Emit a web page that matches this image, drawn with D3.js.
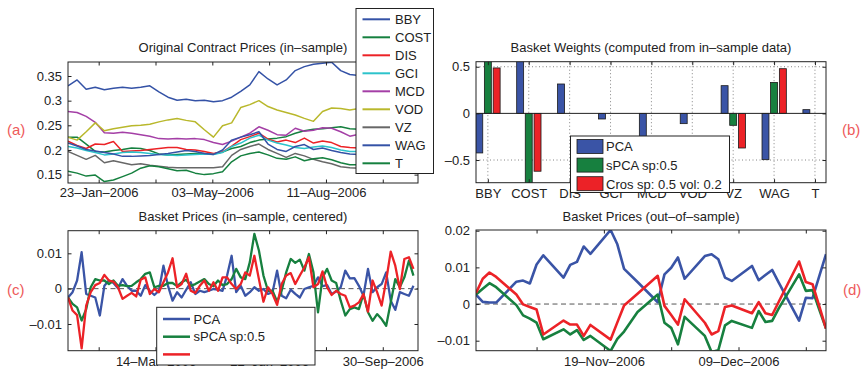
<!DOCTYPE html>
<html>
<head>
<meta charset="utf-8">
<script src="https://d3js.org/d3.v7.min.js"></script>
<style>
    body { margin: 0; background: #fff; }
    text { fill: #222; }
</style>
</head>
<body>
<div id="chart"></div>
<script>
    var FONT = '"Liberation Sans", Arial, Helvetica, sans-serif';

    // ---- panel (a): contract prices, sampled every 8 days from 27-Dec-2005
    var stocks = ["BBY","COST","DIS","GCI","MCD","VOD","VZ","WAG","T"];
    var stockColors = ["#3452a6","#15803f","#ec2226","#2cc3cb","#a43fa6","#b9b82c","#676767","#3452a6","#15803f"];
    var dayGridA = [0,8,16,24,32,40,48,56,64,72,80,88,96,104,112,120,128,136,144,152,160,168,176,184,192,200,208,216,224,232,240,248,256,264,272,280,288,296,304];
    var bby  = [0.330,0.342,0.323,0.327,0.322,0.325,0.327,0.325,0.327,0.330,0.318,0.307,0.301,0.303,0.300,0.301,0.298,0.300,0.307,0.319,0.332,0.359,0.344,0.332,0.342,0.361,0.369,0.374,0.376,0.378,0.361,0.353,0.351,0.352,0.355,0.358,0.360,0.360,0.358];
    var cost = [0.226,0.226,0.212,0.197,0.196,0.199,0.201,0.204,0.203,0.199,0.192,0.190,0.191,0.192,0.193,0.193,0.192,0.196,0.203,0.207,0.215,0.220,0.222,0.224,0.227,0.234,0.239,0.242,0.243,0.245,0.247,0.243,0.242,0.240,0.243,0.245,0.242,0.244,0.246];
    var dis  = [0.218,0.209,0.203,0.212,0.211,0.217,0.197,0.198,0.199,0.201,0.203,0.205,0.205,0.201,0.200,0.197,0.193,0.196,0.208,0.221,0.227,0.234,0.222,0.216,0.220,0.215,0.224,0.214,0.218,0.215,0.207,0.205,0.204,0.205,0.203,0.206,0.204,0.202,0.203];
    var gci  = [0.207,0.204,0.199,0.195,0.190,0.192,0.195,0.196,0.195,0.193,0.191,0.190,0.189,0.190,0.191,0.192,0.191,0.195,0.207,0.214,0.224,0.230,0.220,0.214,0.210,0.205,0.203,0.206,0.208,0.205,0.200,0.197,0.197,0.196,0.195,0.197,0.194,0.195,0.196];
    var mcd  = [0.278,0.276,0.268,0.256,0.235,0.234,0.236,0.234,0.231,0.228,0.223,0.222,0.223,0.222,0.223,0.221,0.215,0.211,0.218,0.226,0.234,0.247,0.240,0.231,0.230,0.244,0.238,0.240,0.245,0.244,0.237,0.228,0.232,0.232,0.234,0.230,0.228,0.230,0.232];
    var vod  = [0.226,0.220,0.237,0.255,0.239,0.243,0.246,0.249,0.250,0.252,0.257,0.261,0.264,0.260,0.257,0.241,0.226,0.249,0.255,0.286,0.292,0.300,0.288,0.281,0.276,0.271,0.264,0.258,0.278,0.285,0.284,0.281,0.284,0.286,0.283,0.285,0.288,0.286,0.287];
    var vz   = [0.197,0.189,0.181,0.189,0.174,0.178,0.174,0.170,0.172,0.169,0.167,0.165,0.164,0.164,0.164,0.164,0.164,0.166,0.189,0.201,0.207,0.212,0.201,0.193,0.185,0.193,0.188,0.181,0.176,0.172,0.166,0.164,0.163,0.162,0.163,0.161,0.162,0.160,0.161];
    var wag  = [0.214,0.208,0.201,0.198,0.195,0.192,0.187,0.187,0.188,0.189,0.191,0.193,0.196,0.199,0.197,0.193,0.191,0.200,0.220,0.226,0.231,0.237,0.212,0.201,0.197,0.207,0.211,0.201,0.204,0.199,0.195,0.192,0.191,0.190,0.191,0.189,0.190,0.188,0.190];
    var att  = [0.157,0.153,0.147,0.149,0.136,0.139,0.146,0.153,0.163,0.168,0.166,0.162,0.158,0.159,0.153,0.150,0.152,0.156,0.176,0.188,0.193,0.196,0.190,0.183,0.181,0.186,0.178,0.182,0.184,0.180,0.174,0.170,0.170,0.172,0.170,0.168,0.171,0.169,0.170];
    var priceSeries = [bby, cost, dis, gci, mcd, vod, vz, wag, att];

    // ---- panel (b): basket weights
    var weightNames = ["PCA", "sPCA sp:0.5", "Cros sp: 0.5 vol: 0.2"];
    var weightColors = ["#3a54a6", "#17803f", "#ec2227"];
    var wPCA  = [-0.424, 0.58, 0.315, -0.06, -0.30, -0.11, 0.297, -0.496, 0.04];
    var wSPCA = [0.57, -0.80, 0, 0, 0, 0, -0.128, 0.332, 0];
    var wCros = [0.487, -0.62, 0, 0, 0, 0, -0.371, 0.479, 0];

    // ---- panel (c): in-sample basket prices (x 1e-3), every 4 days from 27-Dec-2005
    var dayGridC = [0,4,8,12,16,20,24,28,32,36,40,44,48,52,56,60,64,68,72,76,80,84,88,92,96,100,104,108,112,116,120,124,128,132,136,140,144,148,152,156,160,164,168,172,176,180,184,188,192,196,200,204,208,212,216,220,224,228,232,236,240,244,248,252,256,260,264,268,272,276,280,284,288,292,296,300,304];
    var inPCA  = [-2.5,-1.0,2.3,10.3,-1.5,-2.0,-2.5,-7.6,0.8,2.3,1.6,0.1,2.7,0.8,-0.6,-0.6,-2.0,1.0,-0.6,-1.8,-0.6,6.5,0.8,-3.4,-1.0,-2.5,-0.3,1.8,-1.5,-0.6,-1.0,-0.6,-0.1,-0.3,-0.6,3.7,9.3,-1.0,0.8,-2.0,-1.0,0.4,-0.6,-0.1,-1.5,-1.0,5.1,-2.0,-2.7,-0.3,-1.5,-2.5,-0.1,0.4,0.8,3.2,0.7,1.0,-1.5,-0.8,0.4,5.1,2.9,3.0,0.8,-2.0,5.6,-1.0,0.4,1.3,4.6,-3.4,-6.0,-1.0,-1.5,-2.0,0.8];
    var inSPCA = [-2.5,-4.3,-5.3,-9.0,-5.8,0.4,2.7,2.3,2.3,1.3,2.3,0.8,1.0,0.7,0.8,1.8,2.7,4.2,4.6,0.4,0.8,0.8,1.6,1.6,0.7,1.8,2.5,0.8,1.3,2.0,2.7,1.3,0.7,2.3,1.0,1.3,2.7,5.6,3.2,2.7,7.5,15.5,10.8,3.7,-0.6,-0.6,-3.7,-0.6,4.6,8.4,7.3,8.2,5.1,9.8,4.6,-6.7,3.2,5.6,2.3,1.6,-3.4,-7.6,-5.8,-5.3,-5.8,-1.5,-6.7,-9.1,-7.2,-8.6,-10.5,-3.9,2.7,0.4,3.2,7.9,3.7];
    var inCros = [-2.5,-6.2,-7.5,-16.9,-4.8,-1.0,1.0,1.6,3.9,2.3,2.0,0.4,-2.9,-2.0,-1.2,-2.2,2.5,3.2,-1.5,-0.1,-1.0,1.8,4.6,8.6,0.4,1.3,4.2,-0.6,-1.2,0.8,2.3,-0.6,1.8,-0.6,3.2,3.2,1.3,-0.1,1.3,4.6,3.7,9.3,2.7,-3.7,0.4,-1.5,-4.6,1.3,3.7,4.4,1.3,3.7,6.0,8.9,0.4,1.3,4.9,0.4,-1.8,-0.6,-1.5,-2.0,-5.3,-4.8,-3.9,-1.5,-6.5,2.3,-1.0,-4.8,2.3,10.5,6.5,-0.1,8.4,8.9,5.6];

    // ---- panel (d): out-of-sample basket prices (x 1e-3), trading days from 31-Oct-2006
    var dayGridD = [0,1,2,3,6,7,8,9,10,13,14,15,16,17,20,21,22,24,27,28,29,30,31,34,35,36,37,38,41,42,43,44,45,48,49,50,51,52];
    var outPCA  = [2.6,0.6,0.4,0.4,6.1,6.4,5.6,10.8,13.3,7.2,10.7,11.5,15.7,13.7,20.2,16.3,9.6,6.0,0.5,8.1,9.9,12.7,6.9,13.1,13.6,12.2,7.2,6.3,10.4,6.5,7.9,9.3,5.8,-4.5,1.7,1.6,7.6,13.6];
    var outSPCA = [2.6,4.2,5.7,4.6,-0.3,-3.1,-4.0,-5.1,-9.6,-6.9,-8.3,-7.1,-9.8,-8.7,-12.8,-9.5,-7.5,-2.2,2.6,-5.1,-6.5,-11.0,-3.5,-8.7,-13.1,-12.6,-5.8,-4.6,-6.5,-1.9,-4.9,-4.6,-1.1,8.1,3.6,3.8,-1.5,-6.7];
    var outCros = [3.0,6.9,8.6,7.4,2.6,-0.1,-0.8,-1.5,-8.3,-4.5,-5.6,-5.6,-8.7,-5.7,-9.7,-5.0,-0.4,2.8,7.7,-0.5,-3.0,-5.6,1.3,-5.1,-8.3,-7.4,-0.8,-0.4,-2.5,0.5,-2.5,-3.0,0.7,11.6,6.0,5.4,-0.6,-6.7];
    var basketColors = ["#3a54a6", "#17803f", "#ec2227"];

    var startIn = new Date(2005, 11, 27), endIn = new Date(2006, 9, 31);
    var startOut = new Date(2006, 9, 31), endOut = new Date(2006, 11, 22);
    var ticksIn = [new Date(2006,0,23), new Date(2006,2,14), new Date(2006,4,3), new Date(2006,5,22), new Date(2006,7,11), new Date(2006,8,30)];
    var ticksOut = [new Date(2006,10,9), new Date(2006,10,19), new Date(2006,10,29), new Date(2006,11,9), new Date(2006,11,19)];

    function addDays(base, n) { var d = new Date(base); d.setDate(d.getDate() + n); return d; }
    var dateFmt = d3.timeFormat("%d\u2013%b\u2013%Y");
    function numFmt(v) { return v === 0 ? "0" : (v < 0 ? "\u2013" : "") + String(+Math.abs(v).toFixed(4)); }
    function milliFmt(v) { return numFmt(v / 1000); }

    var svg = d3.select("#chart").append("svg").attr("width", 865).attr("height", 372)
        .style("font-family", FONT);

    // inward ticks on all four sides plus a box, MATLAB style
    function drawAxes(g, x, y, o) {
        var xr = x.range(), yr = y.range();
        function style(s) {
            s.attr("font-size", 13).attr("font-family", FONT).attr("color", "#222");
            s.select(".domain").remove();
            s.selectAll("text").style("fill", "#222");
        }
        g.append("g").attr("transform", "translate(0," + yr[0] + ")")
            .call(d3.axisBottom(x).tickValues(o.xTicks).tickSizeInner(-3.5).tickSizeOuter(0)
                .tickPadding(o.xPad).tickFormat(o.xFmt)).call(style);
        g.append("g").attr("transform", "translate(0," + yr[1] + ")")
            .call(d3.axisTop(x).tickValues(o.xTicks).tickSizeInner(-3.5).tickSizeOuter(0).tickFormat("")).call(style);
        g.append("g").attr("transform", "translate(" + xr[0] + ",0)")
            .call(d3.axisLeft(y).tickValues(o.yTicks).tickSizeInner(-3.5).tickSizeOuter(0)
                .tickPadding(6).tickFormat(o.yFmt)).call(style);
        g.append("g").attr("transform", "translate(" + xr[1] + ",0)")
            .call(d3.axisRight(y).tickValues(o.yTicks).tickSizeInner(-3.5).tickSizeOuter(0).tickFormat("")).call(style);
        g.append("rect").attr("x", xr[0]).attr("y", yr[1])
            .attr("width", xr[1] - xr[0]).attr("height", yr[0] - yr[1])
            .attr("fill", "none").attr("stroke", "#222").attr("stroke-width", 1);
    }

    function addClip(id, x, y) {
        svg.append("clipPath").attr("id", id).append("rect")
            .attr("x", x.range()[0]).attr("y", y.range()[1])
            .attr("width", x.range()[1] - x.range()[0]).attr("height", y.range()[0] - y.range()[1]);
    }

    function title(txt, x, yPos) {
        svg.append("text").attr("x", (x.range()[0] + x.range()[1]) / 2).attr("y", yPos)
            .attr("text-anchor", "middle").attr("font-size", 13).text(txt);
    }

    function tag(txt, xPos, yPos) {
        svg.append("text").attr("x", xPos).attr("y", yPos).attr("font-size", 15)
            .style("fill", "#ee5a5a").text(txt);
    }

    // ================= (a)
    var xA = d3.scaleTime().domain([startIn, endIn]).range([68, 418]);
    var yA = d3.scaleLinear().domain([0.133, 0.3784]).range([183, 62]);
    addClip("clipA", xA, yA);
    var gA = svg.append("g");
    var lineA = d3.line().x(function(v, i) { return xA(addDays(startIn, dayGridA[i])); }).y(function(v) { return yA(v); });
    gA.append("g").attr("clip-path", "url(#clipA)").selectAll("path").data(priceSeries).enter().append("path")
        .attr("d", lineA).attr("fill", "none")
        .attr("stroke", function(d, i) { return stockColors[i]; })
        .attr("stroke-width", 1.5).attr("stroke-linejoin", "round");
    var labelA = ticksIn.filter(function(d, i) { return i % 2 === 0; }).map(Number);
    drawAxes(gA, xA, yA, {
        xTicks: ticksIn, xPad: 5,
        xFmt: function(d) { return labelA.indexOf(+d) >= 0 ? dateFmt(d) : ""; },
        yTicks: [0.15, 0.2, 0.25, 0.3, 0.35], yFmt: numFmt
    });
    title("Original Contract Prices (in\u2013sample)", xA, 52);

    // legend (a)
    var legA = svg.append("g");
    legA.append("rect").attr("x", 356).attr("y", 8.5).attr("width", 77.5).attr("height", 165)
        .attr("fill", "#fff").attr("stroke", "#222");
    stocks.forEach(function(s, i) {
        var yy = 19.3 + 18 * i;
        legA.append("line").attr("x1", 362.5).attr("x2", 390).attr("y1", yy).attr("y2", yy)
            .attr("stroke", stockColors[i]).attr("stroke-width", 2);
        legA.append("text").attr("x", 395).attr("y", yy + 4.6).attr("font-size", 13).text(s);
    });

    // ================= (b)
    var xB = d3.scaleLinear().domain([0.71, 9.27]).range([476, 826]);
    var yB = d3.scaleLinear().domain([-0.743, 0.554]).range([182.7, 61.7]);
    addClip("clipB", xB, yB);
    var gB = svg.append("g");
    var cats = d3.range(1, stocks.length + 1);
    gB.selectAll("line.vgrid").data(cats).enter().append("line")
        .attr("x1", function(d) { return xB(d); }).attr("x2", function(d) { return xB(d); })
        .attr("y1", yB.range()[0]).attr("y2", yB.range()[1])
        .attr("stroke", "#666").attr("stroke-width", 0.8).attr("stroke-dasharray", "1,2.5");
    gB.selectAll("line.hgrid").data([-0.5, 0.5]).enter().append("line")
        .attr("x1", xB.range()[0]).attr("x2", xB.range()[1])
        .attr("y1", function(d) { return yB(d); }).attr("y2", function(d) { return yB(d); })
        .attr("stroke", "#666").attr("stroke-width", 0.8).attr("stroke-dasharray", "1,2.5");
    var groups = [wPCA, wSPCA, wCros];
    var offsets = [-0.21, 0, 0.215];
    var bw = 0.17;
    var barG = gB.append("g").attr("clip-path", "url(#clipB)");
    groups.forEach(function(vals, k) {
        barG.selectAll("rect.s" + k).data(vals).enter().append("rect")
            .attr("x", function(v, i) { return xB(i + 1 + offsets[k] - bw / 2); })
            .attr("width", xB(1 + bw) - xB(1))
            .attr("y", function(v) { return Math.min(yB(v), yB(0)); })
            .attr("height", function(v) { return Math.abs(yB(v) - yB(0)); })
            .attr("fill", weightColors[k]).attr("stroke", "#1a1a1a").attr("stroke-width", 0.8);
    });
    gB.append("line").attr("x1", xB.range()[0]).attr("x2", xB.range()[1])
        .attr("y1", yB(0)).attr("y2", yB(0)).attr("stroke", "#222").attr("stroke-width", 1);
    drawAxes(gB, xB, yB, {
        xTicks: cats, xPad: 6, xFmt: function(d) { return stocks[d - 1]; },
        yTicks: [-0.5, 0, 0.5], yFmt: numFmt
    });
    title("Basket Weights (computed from in\u2013sample data)", xB, 52);

    // legend (b)
    var legB = svg.append("g");
    legB.append("rect").attr("x", 570.5).attr("y", 136).attr("width", 159).attr("height", 56.5)
        .attr("fill", "#fff").attr("stroke", "#222");
    weightNames.forEach(function(s, i) {
        var yy = 139.5 + 18.6 * i;
        legB.append("rect").attr("x", 577).attr("y", yy).attr("width", 26).attr("height", 14)
            .attr("fill", weightColors[i]).attr("stroke", "#1a1a1a").attr("stroke-width", 0.8);
        legB.append("text").attr("x", 606).attr("y", yy + 11.8).attr("font-size", 13).text(s);
    });

    // ================= (c)
    var xC = d3.scaleTime().domain([startIn, endIn]).range([68, 418]);
    var yC = d3.scaleLinear().domain([-17.56, 16.4]).range([350.7, 230.7]);
    addClip("clipC", xC, yC);
    var gC = svg.append("g");
    gC.append("line").attr("x1", xC.range()[0]).attr("x2", xC.range()[1])
        .attr("y1", yC(0)).attr("y2", yC(0))
        .attr("stroke", "#555").attr("stroke-width", 1).attr("stroke-dasharray", "5,3.5");
    var lineC = d3.line().x(function(v, i) { return xC(addDays(startIn, dayGridC[i])); }).y(function(v) { return yC(v); });
    gC.append("g").attr("clip-path", "url(#clipC)").selectAll("path").data([inPCA, inSPCA, inCros]).enter().append("path")
        .attr("d", lineC).attr("fill", "none")
        .attr("stroke", function(d, i) { return basketColors[i]; })
        .attr("stroke-width", 2.3).attr("stroke-linejoin", "round");
    var labelC = ticksIn.filter(function(d, i) { return i % 2 === 1; }).map(Number);
    drawAxes(gC, xC, yC, {
        xTicks: ticksIn, xPad: 6,
        xFmt: function(d) { return labelC.indexOf(+d) >= 0 ? dateFmt(d) : ""; },
        yTicks: [-10, 0, 10], yFmt: milliFmt
    });
    title("Basket Prices (in\u2013sample, centered)", xC, 221);

    // legend (c)
    var legC = svg.append("g");
    legC.append("rect").attr("x", 156.7).attr("y", 307.3).attr("width", 158.3).attr("height", 57.7)
        .attr("fill", "#fff").attr("stroke", "#222");
    ["PCA", "sPCA sp:0.5", ""].forEach(function(s, i) {
        var yy = 319 + 17.7 * i;
        legC.append("line").attr("x1", 163).attr("x2", 190).attr("y1", yy).attr("y2", yy)
            .attr("stroke", basketColors[i]).attr("stroke-width", 2.5);
        legC.append("text").attr("x", 193.5).attr("y", yy + 4.6).attr("font-size", 13).text(s);
    });

    // ================= (d)
    var xD = d3.scaleTime().domain([startOut, endOut]).range([476, 826]);
    var yD = d3.scaleLinear().domain([-12.73, 20.2]).range([350.7, 230]);
    addClip("clipD", xD, yD);
    var gD = svg.append("g");
    gD.append("line").attr("x1", xD.range()[0]).attr("x2", xD.range()[1])
        .attr("y1", yD(0)).attr("y2", yD(0))
        .attr("stroke", "#555").attr("stroke-width", 1).attr("stroke-dasharray", "5,3.5");
    var lineD = d3.line().x(function(v, i) { return xD(addDays(startOut, dayGridD[i])); }).y(function(v) { return yD(v); });
    gD.append("g").attr("clip-path", "url(#clipD)").selectAll("path").data([outPCA, outSPCA, outCros]).enter().append("path")
        .attr("d", lineD).attr("fill", "none")
        .attr("stroke", function(d, i) { return basketColors[i]; })
        .attr("stroke-width", 2.6).attr("stroke-linejoin", "round");
    var labelD = [ticksOut[1], ticksOut[3]].map(Number);
    drawAxes(gD, xD, yD, {
        xTicks: ticksOut, xPad: 6,
        xFmt: function(d) { return labelD.indexOf(+d) >= 0 ? dateFmt(d) : ""; },
        yTicks: [-10, 0, 10, 20], yFmt: milliFmt
    });
    title("Basket Prices (out\u2013of\u2013sample)", xD, 221);

    // panel tags
    tag("(a)", 7, 135);
    tag("(b)", 842, 135);
    tag("(c)", 7, 295);
    tag("(d)", 843, 295);
</script>
</body>
</html>
